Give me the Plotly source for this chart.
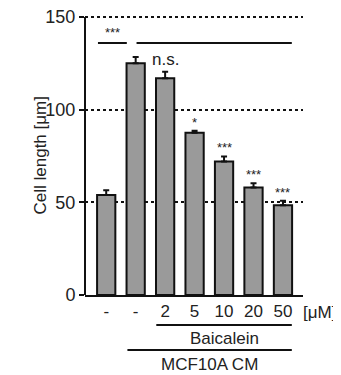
import plotly.graph_objects as go

categories = [0, 1, 2, 3, 4, 5, 6]
tick_labels = ["-", "-", "2", "5", "10", "20", "50"]
means = [54, 125, 117, 87.5, 72, 58, 48.5]
errors = [2.5, 3.5, 3.5, 1.2, 2.8, 2.3, 2.4]
sig_labels = ["", "", "n.s.", "*", "***", "***", "***"]

OFF = 8  # default page body margin
W, H = 341 - OFF, 375 - OFF
Y_TOP = 151.1
L, R, T, B = 85 - OFF, 38, 15 - OFF, 80
ph = H - T - B
pw = W - L - R

def py(pix):  # page pixel y -> paper fraction
    return (H - B - (pix - OFF)) / ph

def px(pix):  # page pixel x -> paper fraction
    return ((pix - OFF) - L) / pw

txt_color = "#222222"
fam = "Liberation Sans, Arial, sans-serif"
font = dict(family=fam, size=17, color=txt_color)

fig = go.Figure()
fig.add_trace(go.Bar(
    x=categories, y=means, width=0.62,
    marker=dict(color="#9a9a9a", line=dict(color="#111111", width=2)),
    error_y=dict(type="data", array=errors, arrayminus=[0]*7, symmetric=False,
                 color="#111111", thickness=2, width=3),
))

annotations = []
shapes = []
for c, m, e, s in zip(categories, means, errors, sig_labels):
    if s:
        annotations.append(dict(x=c, y=m + e, xref="x", yref="y", text=s, showarrow=False,
                                yanchor="bottom", yshift=1 if s == "n.s." else -1,
                                font=dict(family=fam, size=17 if s == "n.s." else 13,
                                          color=txt_color)))
sig_y = 136
shapes.append(dict(type="line", xref="x", yref="y", x0=-0.28, x1=0.7, y0=sig_y, y1=sig_y,
                   line=dict(color="#111111", width=2)))
shapes.append(dict(type="line", xref="x", yref="y", x0=1.03, x1=6.3, y0=sig_y, y1=sig_y,
                   line=dict(color="#111111", width=2)))
annotations.append(dict(x=0.21, y=sig_y, xref="x", yref="y", text="***", showarrow=False,
                        yanchor="bottom", yshift=1, font=dict(family=fam, size=13, color=txt_color)))

shapes.append(dict(type="line", xref="x", yref="paper", x0=1.7, x1=6.3, y0=py(325), y1=py(325),
                   line=dict(color="#111111", width=2)))
annotations.append(dict(x=4.0, y=py(338), xref="x", yref="paper", text="Baicalein", showarrow=False,
                        yanchor="middle", font=font))
shapes.append(dict(type="line", xref="x", yref="paper", x0=0.72, x1=6.3, y0=py(350), y1=py(350),
                   line=dict(color="#111111", width=2)))
annotations.append(dict(x=3.5, y=py(364), xref="x", yref="paper", text="MCF10A CM", showarrow=False,
                        yanchor="middle", font=font))
annotations.append(dict(x=6.68, y=py(312), xref="x", yref="paper", text="[μM]", showarrow=False,
                        xanchor="left", yanchor="middle", xshift=-2, font=font))
annotations.append(dict(x=px(28), y=py(156), xref="paper", yref="paper", text="Cell length [μm]",
                        textangle=-90, showarrow=False, font=font))

fig.update_layout(
    width=W, height=H, margin=dict(l=L, r=R, t=T, b=B, autoexpand=False),
    paper_bgcolor="white", plot_bgcolor="white", showlegend=False,
    font=font, shapes=shapes, annotations=annotations,
    xaxis=dict(range=[-0.72, 6.68], tickvals=categories, ticktext=tick_labels, automargin=False,
               showgrid=False, zeroline=False, showline=True, linecolor="#111111", linewidth=2,
               ticks="", tickfont=font),
    yaxis=dict(range=[0, Y_TOP], tickvals=[0, 50, 100, 150], showgrid=True, gridcolor="#111111",
               griddash="dot", gridwidth=2, zeroline=False, showline=False,
               ticks="outside", ticklen=5, tickwidth=2, tickcolor="#111111",
               ticklabeloverflow="allow",
               automargin=False, tickfont=dict(family=fam, size=18, color=txt_color)),
)
# y-axis spine from 0 to 150 only, like the reference
fig.add_shape(type="line", xref="paper", yref="y", x0=0, x1=0, y0=0, y1=150,
              line=dict(color="#111111", width=2))
fig.write_html("out.html")
